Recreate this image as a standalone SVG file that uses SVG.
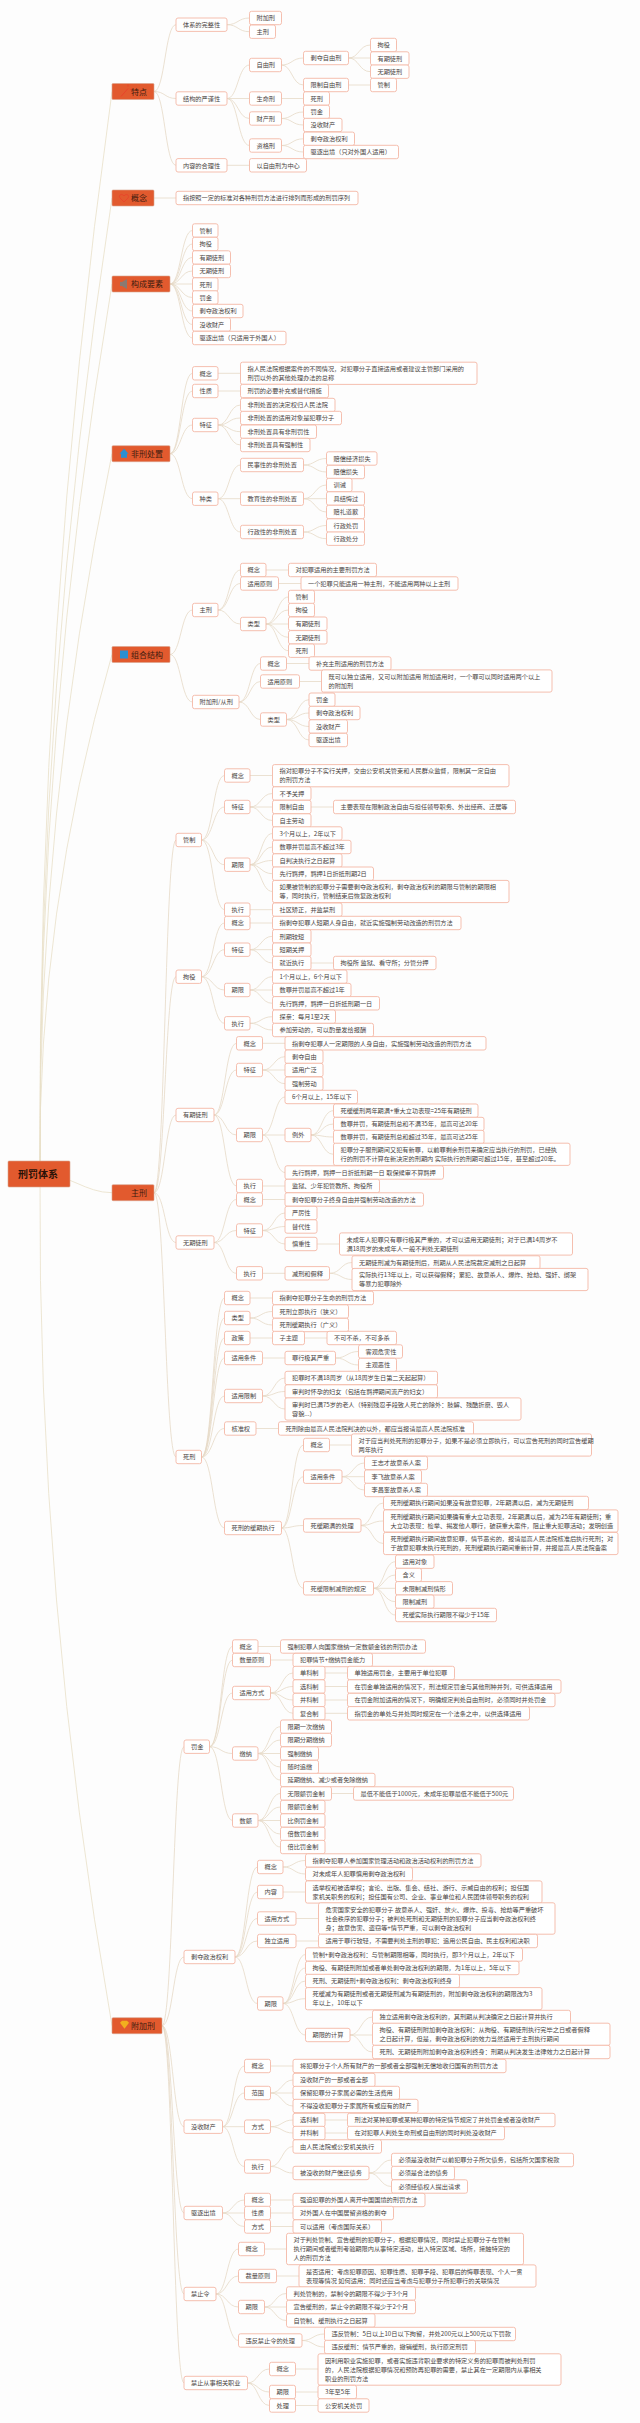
<svg xmlns="http://www.w3.org/2000/svg" width="640" height="2423" viewBox="0 0 640 2423">
<style>
#links path{fill:none;stroke:#e6d9c6;stroke-width:.8}
#links path.r{stroke:#e8e0c8}
#nodes rect{fill:#fff;stroke:#f4b8a6;stroke-width:.9;rx:2px}
#nodes rect.l{fill:#e25a2e;stroke:#d9a58f;stroke-width:.6;rx:1px}
#nodes text{font-family:"Noto Sans CJK SC","Noto Sans",sans-serif;font-size:6.2px;fill:#4a4442}
#nodes text.l{font-size:8px;fill:#3d1a0e}
#nodes text.rt{font-size:10px;font-weight:bold;fill:#2a1208}
</style>
<rect width="640" height="2423" fill="#fdfdfd"/>
<g id="links">
<path class="r" d="M40 1174Q37 632 112 91.5"/>
<path class="r" d="M40 1174Q37 686 112 198"/>
<path class="r" d="M40 1174Q37 729 112 284"/>
<path class="r" d="M40 1174Q37 814 112 453.7"/>
<path class="r" d="M40 1174Q37 914 112 654.5"/>
<path class="r" d="M40 1174C70 1174 85 1192.7 112 1192.7"/>
<path class="r" d="M40 1174Q37 1600 112 2025.7"/>
<path d="M154 91.5C165 91.5 165 24.7 176 24.7"/>
<path d="M154 91.5C165 91.5 165 98.5 176 98.5"/>
<path d="M154 91.5C165 91.5 165 165.3 176 165.3"/>
<path d="M227 24.7C238 24.7 238 18 249.5 18"/>
<path d="M227 24.7C238 24.7 238 31.7 249.5 31.7"/>
<path d="M227 98.5C238 98.5 238 65 249.5 65"/>
<path d="M227 98.5H249.5"/>
<path d="M227 98.5C238 98.5 238 118.5 249.5 118.5"/>
<path d="M227 98.5C238 98.5 238 145.5 249.5 145.5"/>
<path d="M227 165.3H249.5"/>
<path d="M281.5 65C292 65 292 58 303.5 58"/>
<path d="M281.5 65C292 65 292 85 303.5 85"/>
<path d="M281.5 98.5H303.5"/>
<path d="M281.5 118.5C292 118.5 292 112 303.5 112"/>
<path d="M281.5 118.5C292 118.5 292 125 303.5 125"/>
<path d="M281.5 145.5C292 145.5 292 138.8 303.5 138.8"/>
<path d="M281.5 145.5C292 145.5 292 152 303.5 152"/>
<path d="M348.5 58C359 58 359 45 370.5 45"/>
<path d="M348.5 58H370.5"/>
<path d="M348.5 58C359 58 359 71.7 370.5 71.7"/>
<path d="M348.5 85H370.5"/>
<path d="M154 198H176"/>
<path d="M170 284C181 284 181 230.5 192.5 230.5"/>
<path d="M170 284C181 284 181 244 192.5 244"/>
<path d="M170 284C181 284 181 257.5 192.5 257.5"/>
<path d="M170 284C181 284 181 271 192.5 271"/>
<path d="M170 284H192.5"/>
<path d="M170 284C181 284 181 297.5 192.5 297.5"/>
<path d="M170 284C181 284 181 311 192.5 311"/>
<path d="M170 284C181 284 181 324.5 192.5 324.5"/>
<path d="M170 284C181 284 181 338 192.5 338"/>
<path d="M170 453.7C181 453.7 181 373.3 192.5 373.3"/>
<path d="M170 453.7C181 453.7 181 391 192.5 391"/>
<path d="M170 453.7C181 453.7 181 425 192.5 425"/>
<path d="M170 453.7C181 453.7 181 498.7 192.5 498.7"/>
<path d="M218 373.3H240.5"/>
<path d="M218 391H240.5"/>
<path d="M218 425C229 425 229 405 240.5 405"/>
<path d="M218 425C229 425 229 418 240.5 418"/>
<path d="M218 425C229 425 229 431.7 240.5 431.7"/>
<path d="M218 425C229 425 229 445 240.5 445"/>
<path d="M218 498.7C229 498.7 229 465 240.5 465"/>
<path d="M218 498.7H240.5"/>
<path d="M218 498.7C229 498.7 229 532 240.5 532"/>
<path d="M303.5 465C315 465 315 458.5 326.5 458.5"/>
<path d="M303.5 465C315 465 315 472 326.5 472"/>
<path d="M303.5 498.7C315 498.7 315 485 326.5 485"/>
<path d="M303.5 498.7H326.5"/>
<path d="M303.5 498.7C315 498.7 315 512 326.5 512"/>
<path d="M303.5 532C315 532 315 525.5 326.5 525.5"/>
<path d="M303.5 532C315 532 315 538.7 326.5 538.7"/>
<path d="M170 654.5C181 654.5 181 610 192.5 610"/>
<path d="M170 654.5C181 654.5 181 702 192.5 702"/>
<path d="M218 610C229 610 229 570 240.5 570"/>
<path d="M218 610C229 610 229 583.5 240.5 583.5"/>
<path d="M218 610C229 610 229 624 240.5 624"/>
<path d="M266 570H288.5"/>
<path d="M278.5 583.5H301"/>
<path d="M266 624C277 624 277 597 288.5 597"/>
<path d="M266 624C277 624 277 610 288.5 610"/>
<path d="M266 624H288.5"/>
<path d="M266 624C277 624 277 637.3 288.5 637.3"/>
<path d="M266 624C277 624 277 650.7 288.5 650.7"/>
<path d="M239 702C250 702 250 663.5 260.5 663.5"/>
<path d="M239 702C250 702 250 681.5 260.5 681.5"/>
<path d="M239 702C250 702 250 719.5 260.5 719.5"/>
<path d="M286.5 663.5H309"/>
<path d="M299.5 681.5H321.5"/>
<path d="M286.5 719.5C298 719.5 298 699.7 309 699.7"/>
<path d="M286.5 719.5C298 719.5 298 713 309 713"/>
<path d="M286.5 719.5C298 719.5 298 726.5 309 726.5"/>
<path d="M286.5 719.5C298 719.5 298 740 309 740"/>
<path d="M154 1192.7C165 1192.7 165 840 176 840"/>
<path d="M154 1192.7C165 1192.7 165 976.7 176 976.7"/>
<path d="M154 1192.7C165 1192.7 165 1115 176 1115"/>
<path d="M154 1192.7C165 1192.7 165 1242.5 176 1242.5"/>
<path d="M154 1192.7C165 1192.7 165 1457 176 1457"/>
<path d="M201.5 840C213 840 213 775.5 224.5 775.5"/>
<path d="M201.5 840C213 840 213 807 224.5 807"/>
<path d="M201.5 840C213 840 213 864.7 224.5 864.7"/>
<path d="M201.5 840C213 840 213 909.7 224.5 909.7"/>
<path d="M250 775.5H272.5"/>
<path d="M250 807C261 807 261 793.5 272.5 793.5"/>
<path d="M250 807H272.5"/>
<path d="M250 807C261 807 261 820.5 272.5 820.5"/>
<path d="M311 807H333.5"/>
<path d="M250 864.7C261 864.7 261 833.5 272.5 833.5"/>
<path d="M250 864.7C261 864.7 261 847 272.5 847"/>
<path d="M250 864.7C261 864.7 261 860.5 272.5 860.5"/>
<path d="M250 864.7C261 864.7 261 873.7 272.5 873.7"/>
<path d="M250 864.7C261 864.7 261 891.5 272.5 891.5"/>
<path d="M250 909.7H272.5"/>
<path d="M201.5 976.7C213 976.7 213 923 224.5 923"/>
<path d="M201.5 976.7C213 976.7 213 949.7 224.5 949.7"/>
<path d="M201.5 976.7C213 976.7 213 990 224.5 990"/>
<path d="M201.5 976.7C213 976.7 213 1023.3 224.5 1023.3"/>
<path d="M250 923H272.5"/>
<path d="M250 949.7C261 949.7 261 936.3 272.5 936.3"/>
<path d="M250 949.7H272.5"/>
<path d="M250 949.7C261 949.7 261 963 272.5 963"/>
<path d="M311 963H333.5"/>
<path d="M250 990C261 990 261 976.7 272.5 976.7"/>
<path d="M250 990H272.5"/>
<path d="M250 990C261 990 261 1003.3 272.5 1003.3"/>
<path d="M250 1023.3C261 1023.3 261 1016.7 272.5 1016.7"/>
<path d="M250 1023.3C261 1023.3 261 1030 272.5 1030"/>
<path d="M214 1115C225 1115 225 1043.3 236.5 1043.3"/>
<path d="M214 1115C225 1115 225 1070 236.5 1070"/>
<path d="M214 1115C225 1115 225 1135 236.5 1135"/>
<path d="M214 1115C225 1115 225 1186 236.5 1186"/>
<path d="M262.5 1043.3H285"/>
<path d="M262.5 1070C274 1070 274 1056.7 285 1056.7"/>
<path d="M262.5 1070H285"/>
<path d="M262.5 1070C274 1070 274 1083.7 285 1083.7"/>
<path d="M262.5 1135C274 1135 274 1097 285 1097"/>
<path d="M262.5 1135H285"/>
<path d="M262.5 1135C274 1135 274 1172.5 285 1172.5"/>
<path d="M262.5 1186H285"/>
<path d="M311 1135C322 1135 322 1110.7 333.5 1110.7"/>
<path d="M311 1135C322 1135 322 1124 333.5 1124"/>
<path d="M311 1135C322 1135 322 1137 333.5 1137"/>
<path d="M311 1135C322 1135 322 1154.3 333.5 1154.3"/>
<path d="M214 1242.5C225 1242.5 225 1199.5 236.5 1199.5"/>
<path d="M214 1242.5C225 1242.5 225 1230.5 236.5 1230.5"/>
<path d="M214 1242.5C225 1242.5 225 1273.3 236.5 1273.3"/>
<path d="M262.5 1199.5H285"/>
<path d="M262.5 1230.5C274 1230.5 274 1213 285 1213"/>
<path d="M262.5 1230.5C274 1230.5 274 1226.5 285 1226.5"/>
<path d="M262.5 1230.5C274 1230.5 274 1244 285 1244"/>
<path d="M317 1244H339.5"/>
<path d="M262.5 1273.3H285"/>
<path d="M329.5 1273.3C341 1273.3 341 1262.5 352 1262.5"/>
<path d="M329.5 1273.3C341 1273.3 341 1279.5 352 1279.5"/>
<path d="M201.5 1457C213 1457 213 1298 224.5 1298"/>
<path d="M201.5 1457C213 1457 213 1318 224.5 1318"/>
<path d="M201.5 1457C213 1457 213 1338 224.5 1338"/>
<path d="M201.5 1457C213 1457 213 1358 224.5 1358"/>
<path d="M201.5 1457C213 1457 213 1396 224.5 1396"/>
<path d="M201.5 1457C213 1457 213 1428.5 224.5 1428.5"/>
<path d="M201.5 1457C213 1457 213 1528 224.5 1528"/>
<path d="M250 1298H272.5"/>
<path d="M250 1318C261 1318 261 1311.5 272.5 1311.5"/>
<path d="M250 1318C261 1318 261 1325 272.5 1325"/>
<path d="M250 1338H272.5"/>
<path d="M304.5 1338H327"/>
<path d="M262.5 1358H285"/>
<path d="M335.5 1358C347 1358 347 1351.5 358.5 1351.5"/>
<path d="M335.5 1358C347 1358 347 1365 358.5 1365"/>
<path d="M262.5 1396C274 1396 274 1378 285 1378"/>
<path d="M262.5 1396C274 1396 274 1391.5 285 1391.5"/>
<path d="M262.5 1396C274 1396 274 1409 285 1409"/>
<path d="M256 1428.5H278.5"/>
<path d="M281.5 1528C292 1528 292 1445 303.5 1445"/>
<path d="M281.5 1528C292 1528 292 1476.7 303.5 1476.7"/>
<path d="M281.5 1528C292 1528 292 1525.5 303.5 1525.5"/>
<path d="M281.5 1528C292 1528 292 1588.3 303.5 1588.3"/>
<path d="M329.5 1445H351.5"/>
<path d="M342 1476.7C353 1476.7 353 1463 364.5 1463"/>
<path d="M342 1476.7H364.5"/>
<path d="M342 1476.7C353 1476.7 353 1490 364.5 1490"/>
<path d="M361 1525.5C372 1525.5 372 1503 383.5 1503"/>
<path d="M361 1525.5C372 1525.5 372 1521 383.5 1521"/>
<path d="M361 1525.5C372 1525.5 372 1543.5 383.5 1543.5"/>
<path d="M373.5 1588.3C384 1588.3 384 1561.7 395.5 1561.7"/>
<path d="M373.5 1588.3C384 1588.3 384 1575 395.5 1575"/>
<path d="M373.5 1588.3H395.5"/>
<path d="M373.5 1588.3C384 1588.3 384 1601.7 395.5 1601.7"/>
<path d="M373.5 1588.3C384 1588.3 384 1615 395.5 1615"/>
<path d="M162 2025.7C173 2025.7 173 1746.7 184 1746.7"/>
<path d="M162 2025.7C173 2025.7 173 1957 184 1957"/>
<path d="M162 2025.7C173 2025.7 173 2126.7 184 2126.7"/>
<path d="M162 2025.7C173 2025.7 173 2213 184 2213"/>
<path d="M162 2025.7C173 2025.7 173 2294 184 2294"/>
<path d="M162 2025.7C173 2025.7 173 2383 184 2383"/>
<path d="M209.5 1746.7C221 1746.7 221 1646.5 232.5 1646.5"/>
<path d="M209.5 1746.7C221 1746.7 221 1660 232.5 1660"/>
<path d="M209.5 1746.7C221 1746.7 221 1693 232.5 1693"/>
<path d="M209.5 1746.7C221 1746.7 221 1753.5 232.5 1753.5"/>
<path d="M209.5 1746.7C221 1746.7 221 1820.5 232.5 1820.5"/>
<path d="M258 1646.5H280.5"/>
<path d="M270.5 1660H293"/>
<path d="M270.5 1693C282 1693 282 1673 293 1673"/>
<path d="M270.5 1693C282 1693 282 1686.5 293 1686.5"/>
<path d="M270.5 1693C282 1693 282 1700 293 1700"/>
<path d="M270.5 1693C282 1693 282 1713.3 293 1713.3"/>
<path d="M325 1673H347.5"/>
<path d="M325 1686.5H347.5"/>
<path d="M325 1700H347.5"/>
<path d="M325 1713.3H347.5"/>
<path d="M258 1753.5C269 1753.5 269 1726.7 280.5 1726.7"/>
<path d="M258 1753.5C269 1753.5 269 1740 280.5 1740"/>
<path d="M258 1753.5H280.5"/>
<path d="M258 1753.5C269 1753.5 269 1767 280.5 1767"/>
<path d="M258 1753.5C269 1753.5 269 1780 280.5 1780"/>
<path d="M258 1820.5C269 1820.5 269 1793.5 280.5 1793.5"/>
<path d="M258 1820.5C269 1820.5 269 1807 280.5 1807"/>
<path d="M258 1820.5H280.5"/>
<path d="M258 1820.5C269 1820.5 269 1834 280.5 1834"/>
<path d="M258 1820.5C269 1820.5 269 1847 280.5 1847"/>
<path d="M331.5 1793.5H353.5"/>
<path d="M235 1957C246 1957 246 1867 257.5 1867"/>
<path d="M235 1957C246 1957 246 1892 257.5 1892"/>
<path d="M235 1957C246 1957 246 1918.5 257.5 1918.5"/>
<path d="M235 1957C246 1957 246 1941 257.5 1941"/>
<path d="M235 1957C246 1957 246 2003.5 257.5 2003.5"/>
<path d="M283 1867C294 1867 294 1860.5 305.5 1860.5"/>
<path d="M283 1867C294 1867 294 1874 305.5 1874"/>
<path d="M283 1892H305.5"/>
<path d="M296 1918.5H318.5"/>
<path d="M296 1941H318.5"/>
<path d="M283 2003.5C294 2003.5 294 1954.5 305.5 1954.5"/>
<path d="M283 2003.5C294 2003.5 294 1968 305.5 1968"/>
<path d="M283 2003.5C294 2003.5 294 1981 305.5 1981"/>
<path d="M283 2003.5C294 2003.5 294 1998.7 305.5 1998.7"/>
<path d="M283 2003.5C294 2003.5 294 2035 305.5 2035"/>
<path d="M350 2035C361 2035 361 2017 372.5 2017"/>
<path d="M350 2035H372.5"/>
<path d="M350 2035C361 2035 361 2052 372.5 2052"/>
<path d="M222.5 2126.7C233 2126.7 233 2066 244.5 2066"/>
<path d="M222.5 2126.7C233 2126.7 233 2093 244.5 2093"/>
<path d="M222.5 2126.7H244.5"/>
<path d="M222.5 2126.7C233 2126.7 233 2166.5 244.5 2166.5"/>
<path d="M270.5 2066H293"/>
<path d="M270.5 2093C282 2093 282 2080 293 2080"/>
<path d="M270.5 2093H293"/>
<path d="M270.5 2093C282 2093 282 2106 293 2106"/>
<path d="M270.5 2126.7C282 2126.7 282 2120 293 2120"/>
<path d="M270.5 2126.7C282 2126.7 282 2133 293 2133"/>
<path d="M325 2120H347.5"/>
<path d="M325 2133H347.5"/>
<path d="M270.5 2166.5C282 2166.5 282 2146.5 293 2146.5"/>
<path d="M270.5 2166.5C282 2166.5 282 2173 293 2173"/>
<path d="M369 2173C380 2173 380 2160 391.5 2160"/>
<path d="M369 2173H391.5"/>
<path d="M369 2173C380 2173 380 2186.5 391.5 2186.5"/>
<path d="M222.5 2213C233 2213 233 2200 244.5 2200"/>
<path d="M222.5 2213H244.5"/>
<path d="M222.5 2213C233 2213 233 2226.5 244.5 2226.5"/>
<path d="M270.5 2200H293"/>
<path d="M270.5 2213H293"/>
<path d="M270.5 2226.5H293"/>
<path d="M216 2294C227 2294 227 2249 238.5 2249"/>
<path d="M216 2294C227 2294 227 2276 238.5 2276"/>
<path d="M216 2294C227 2294 227 2307 238.5 2307"/>
<path d="M216 2294C227 2294 227 2340.5 238.5 2340.5"/>
<path d="M264.5 2249H286.5"/>
<path d="M276.5 2276H299"/>
<path d="M264.5 2307C275 2307 275 2293.5 286.5 2293.5"/>
<path d="M264.5 2307H286.5"/>
<path d="M264.5 2307C275 2307 275 2320.5 286.5 2320.5"/>
<path d="M302 2340.5C313 2340.5 313 2334 324.5 2334"/>
<path d="M302 2340.5C313 2340.5 313 2347 324.5 2347"/>
<path d="M247.5 2383C258 2383 258 2369 269.5 2369"/>
<path d="M247.5 2383C258 2383 258 2392 269.5 2392"/>
<path d="M247.5 2383C258 2383 258 2405.5 269.5 2405.5"/>
<path d="M295.5 2369H318"/>
<path d="M295.5 2392H318"/>
<path d="M295.5 2405.5H318"/>
</g>
<g id="nodes">
<g id="root" transform="translate(8 1174)"><rect class="l" y="-13" width="62" height="26"/><text class="rt" x="10" y="3.5">刑罚体系</text></g>
<g id="L-tedian" transform="translate(112 91.5)"><rect class="l" y="-8" width="42" height="16"/><path d="M9 5L16 -3M16 -5V-7M18 -2H20" stroke="#e8432b" stroke-width="1" fill="none"/><text class="l" x="19" y="3">特点</text></g>
<g transform="translate(176 24.7)" id="a1"><rect y="-6.7" width="51" height="13.4"/><text x="7" y="2.2">体系的完整性</text></g>
<g transform="translate(249.5 18)" id="a2"><rect y="-6.7" width="32" height="13.4"/><text x="7" y="2.2">附加刑</text></g>
<g transform="translate(249.5 31.7)" id="a3"><rect y="-6.7" width="26" height="13.4"/><text x="7" y="2.2">主刑</text></g>
<g transform="translate(176 98.5)" id="a4"><rect y="-6.7" width="51" height="13.4"/><text x="7" y="2.2">结构的严谨性</text></g>
<g transform="translate(249.5 65)" id="a5"><rect y="-6.7" width="32" height="13.4"/><text x="7" y="2.2">自由刑</text></g>
<g transform="translate(303.5 58)" id="a6"><rect y="-6.7" width="45" height="13.4"/><text x="7" y="2.2">剥夺自由刑</text></g>
<g transform="translate(370.5 45)" id="a7"><rect y="-6.7" width="26" height="13.4"/><text x="7" y="2.2">拘役</text></g>
<g transform="translate(370.5 58.5)" id="a8"><rect y="-6.7" width="38.5" height="13.4"/><text x="7" y="2.2">有期徒刑</text></g>
<g transform="translate(370.5 71.7)" id="a9"><rect y="-6.7" width="38.5" height="13.4"/><text x="7" y="2.2">无期徒刑</text></g>
<g transform="translate(303.5 85)" id="a10"><rect y="-6.7" width="45" height="13.4"/><text x="7" y="2.2">限制自由刑</text></g>
<g transform="translate(370.5 85)" id="a11"><rect y="-6.7" width="26" height="13.4"/><text x="7" y="2.2">管制</text></g>
<g transform="translate(249.5 98.5)" id="a12"><rect y="-6.7" width="32" height="13.4"/><text x="7" y="2.2">生命刑</text></g>
<g transform="translate(303.5 98.5)" id="a13"><rect y="-6.7" width="26" height="13.4"/><text x="7" y="2.2">死刑</text></g>
<g transform="translate(249.5 118.5)" id="a14"><rect y="-6.7" width="32" height="13.4"/><text x="7" y="2.2">财产刑</text></g>
<g transform="translate(303.5 112)" id="a15"><rect y="-6.7" width="26" height="13.4"/><text x="7" y="2.2">罚金</text></g>
<g transform="translate(303.5 125)" id="a16"><rect y="-6.7" width="38.5" height="13.4"/><text x="7" y="2.2">没收财产</text></g>
<g transform="translate(249.5 145.5)" id="a17"><rect y="-6.7" width="32" height="13.4"/><text x="7" y="2.2">资格刑</text></g>
<g transform="translate(303.5 138.8)" id="a18"><rect y="-6.7" width="51" height="13.4"/><text x="7" y="2.2">剥夺政治权利</text></g>
<g transform="translate(303.5 152)" id="a19"><rect y="-6.7" width="95" height="13.4"/><text x="7" y="2.2">驱逐出境（只对外国人适用）</text></g>
<g transform="translate(176 165.3)" id="a20"><rect y="-6.7" width="51" height="13.4"/><text x="7" y="2.2">内容的合理性</text></g>
<g transform="translate(249.5 165.3)" id="a21"><rect y="-6.7" width="57" height="13.4"/><text x="7" y="2.2">以自由刑为中心</text></g>
<g id="L-gainian" transform="translate(112 198)"><rect class="l" y="-8" width="42" height="16"/><path d="M12 4L8 0C6 -3 10 -5 12 -2C14 -5 18 -3 16 0Z" stroke="#e8432b" stroke-width=".8" fill="none"/><text class="l" x="19" y="3">概念</text></g>
<g transform="translate(176 198)" id="b1"><rect y="-6.7" width="182" height="13.4"/><text x="7" y="2.2">指按照一定的标准对各种刑罚方法进行排列而形成的刑罚序列</text></g>
<g id="L-goucheng" transform="translate(112 284)"><rect class="l" y="-8" width="58" height="16"/><path d="M8 -2H10L15 -5V5L10 2H8Z" fill="#8a7a72"/><text class="l" x="19" y="3">构成要素</text></g>
<g transform="translate(192.5 230.5)" id="c1"><rect y="-6.7" width="25.5" height="13.4"/><text x="7" y="2.2">管制</text></g>
<g transform="translate(192.5 244)" id="c2"><rect y="-6.7" width="25.5" height="13.4"/><text x="7" y="2.2">拘役</text></g>
<g transform="translate(192.5 257.5)" id="c3"><rect y="-6.7" width="38" height="13.4"/><text x="7" y="2.2">有期徒刑</text></g>
<g transform="translate(192.5 271)" id="c4"><rect y="-6.7" width="38" height="13.4"/><text x="7" y="2.2">无期徒刑</text></g>
<g transform="translate(192.5 284.5)" id="c5"><rect y="-6.7" width="25.5" height="13.4"/><text x="7" y="2.2">死刑</text></g>
<g transform="translate(192.5 297.5)" id="c6"><rect y="-6.7" width="25.5" height="13.4"/><text x="7" y="2.2">罚金</text></g>
<g transform="translate(192.5 311)" id="c7"><rect y="-6.7" width="50.5" height="13.4"/><text x="7" y="2.2">剥夺政治权利</text></g>
<g transform="translate(192.5 324.5)" id="c8"><rect y="-6.7" width="38" height="13.4"/><text x="7" y="2.2">没收财产</text></g>
<g transform="translate(192.5 338)" id="c9"><rect y="-6.7" width="93.5" height="13.4"/><text x="7" y="2.2">驱逐出境（只适用于外国人）</text></g>
<g id="L-feixing" transform="translate(112 453.7)"><rect class="l" y="-8" width="58" height="16"/><path d="M12 -5L16.5 0H15V4H9V0H7.500Z" fill="#2b8fd0"/><text class="l" x="19" y="3">非刑处置</text></g>
<g transform="translate(192.5 373.3)" id="d1"><rect y="-6.7" width="25.5" height="13.4"/><text x="7" y="2.2">概念</text></g>
<g transform="translate(240.5 373.3)" id="d2"><rect y="-11.1" width="236.500" height="22.200"/><text x="7" y="-2.4">指人民法院根据案件的不同情况，对犯罪分子直接适用或者建议主管部门采用的<tspan x="7" dy="9.1">刑罚以外的其他处理办法的总称</tspan></text></g>
<g transform="translate(192.5 391)" id="d3"><rect y="-6.7" width="25.5" height="13.4"/><text x="7" y="2.2">性质</text></g>
<g transform="translate(240.5 391)" id="d4"><rect y="-6.7" width="88" height="13.4"/><text x="7" y="2.2">刑罚的必要补充或替代措施</text></g>
<g transform="translate(192.5 425)" id="d5"><rect y="-6.7" width="25.5" height="13.4"/><text x="7" y="2.2">特征</text></g>
<g transform="translate(240.5 405)" id="d6"><rect y="-6.7" width="94.5" height="13.4"/><text x="7" y="2.2">非刑处置的决定权归人民法院</text></g>
<g transform="translate(240.5 418)" id="d7"><rect y="-6.7" width="101" height="13.4"/><text x="7" y="2.2">非刑处置的适用对象是犯罪分子</text></g>
<g transform="translate(240.5 431.7)" id="d8"><rect y="-6.7" width="76" height="13.4"/><text x="7" y="2.2">非刑处置具有非刑罚性</text></g>
<g transform="translate(240.5 445)" id="d9"><rect y="-6.7" width="69.5" height="13.4"/><text x="7" y="2.2">非刑处置具有强制性</text></g>
<g transform="translate(192.5 498.7)" id="d10"><rect y="-6.7" width="25.5" height="13.4"/><text x="7" y="2.2">种类</text></g>
<g transform="translate(240.5 465)" id="d11"><rect y="-6.7" width="63" height="13.4"/><text x="7" y="2.2">民事性的非刑处置</text></g>
<g transform="translate(326.5 458.5)" id="d12"><rect y="-6.7" width="50.5" height="13.4"/><text x="7" y="2.2">赔偿经济损失</text></g>
<g transform="translate(326.5 472)" id="d13"><rect y="-6.7" width="38" height="13.4"/><text x="7" y="2.2">赔偿损失</text></g>
<g transform="translate(240.5 498.7)" id="d14"><rect y="-6.7" width="63" height="13.4"/><text x="7" y="2.2">教育性的非刑处置</text></g>
<g transform="translate(326.5 485)" id="d15"><rect y="-6.7" width="25.5" height="13.4"/><text x="7" y="2.2">训诫</text></g>
<g transform="translate(326.5 498.5)" id="d16"><rect y="-6.7" width="38" height="13.4"/><text x="7" y="2.2">具结悔过</text></g>
<g transform="translate(326.5 512)" id="d17"><rect y="-6.7" width="38" height="13.4"/><text x="7" y="2.2">赔礼道歉</text></g>
<g transform="translate(240.5 532)" id="d18"><rect y="-6.7" width="63" height="13.4"/><text x="7" y="2.2">行政性的非刑处置</text></g>
<g transform="translate(326.5 525.5)" id="d19"><rect y="-6.7" width="38" height="13.4"/><text x="7" y="2.2">行政处罚</text></g>
<g transform="translate(326.5 538.7)" id="d20"><rect y="-6.7" width="38" height="13.4"/><text x="7" y="2.2">行政处分</text></g>
<g id="L-zuhe" transform="translate(112 654.5)"><rect class="l" y="-8" width="58" height="16"/><path d="M8 -4H16V4H8Z" fill="#2b8fd0"/><text class="l" x="19" y="3">组合结构</text></g>
<g transform="translate(192.5 610)" id="e1"><rect y="-6.7" width="25.5" height="13.4"/><text x="7" y="2.2">主刑</text></g>
<g transform="translate(240.5 570)" id="e2"><rect y="-6.7" width="25.5" height="13.4"/><text x="7" y="2.2">概念</text></g>
<g transform="translate(288.5 570)" id="e3"><rect y="-6.7" width="88" height="13.4"/><text x="7" y="2.2">对犯罪适用的主要刑罚方法</text></g>
<g transform="translate(240.5 583.5)" id="e4"><rect y="-6.7" width="38" height="13.4"/><text x="7" y="2.2">适用原则</text></g>
<g transform="translate(301 583.5)" id="e5"><rect y="-6.7" width="157" height="13.4"/><text x="7" y="2.2">一个犯罪只能适用一种主刑，不能适用两种以上主刑</text></g>
<g transform="translate(240.5 624)" id="e6"><rect y="-6.7" width="25.5" height="13.4"/><text x="7" y="2.2">类型</text></g>
<g transform="translate(288.5 597)" id="e7"><rect y="-6.7" width="26" height="13.4"/><text x="7" y="2.2">管制</text></g>
<g transform="translate(288.5 610)" id="e8"><rect y="-6.7" width="26" height="13.4"/><text x="7" y="2.2">拘役</text></g>
<g transform="translate(288.5 623.7)" id="e9"><rect y="-6.7" width="38.5" height="13.4"/><text x="7" y="2.2">有期徒刑</text></g>
<g transform="translate(288.5 637.3)" id="e10"><rect y="-6.7" width="38.5" height="13.4"/><text x="7" y="2.2">无期徒刑</text></g>
<g transform="translate(288.5 650.7)" id="e11"><rect y="-6.7" width="26" height="13.4"/><text x="7" y="2.2">死刑</text></g>
<g transform="translate(192.5 702)" id="e12"><rect y="-6.7" width="46.5" height="13.4"/><text x="7" y="2.2">附加刑/从刑</text></g>
<g transform="translate(260.5 663.5)" id="e13"><rect y="-6.7" width="26" height="13.4"/><text x="7" y="2.2">概念</text></g>
<g transform="translate(309 663.5)" id="e14"><rect y="-6.7" width="82" height="13.4"/><text x="7" y="2.2">补充主刑适用的刑罚方法</text></g>
<g transform="translate(260.5 681.5)" id="e15"><rect y="-6.7" width="39" height="13.4"/><text x="7" y="2.2">适用原则</text></g>
<g transform="translate(321.5 681)" id="e16"><rect y="-11.1" width="230.500" height="22.200"/><text x="7" y="-2.4">既可以独立适用，又可以附加适用 附加适用时，一个罪可以同时适用两个以上<tspan x="7" dy="9.1">的附加刑</tspan></text></g>
<g transform="translate(260.5 719.5)" id="e17"><rect y="-6.7" width="26" height="13.4"/><text x="7" y="2.2">类型</text></g>
<g transform="translate(309 699.7)" id="e18"><rect y="-6.7" width="26" height="13.4"/><text x="7" y="2.2">罚金</text></g>
<g transform="translate(309 713)" id="e19"><rect y="-6.7" width="51" height="13.4"/><text x="7" y="2.2">剥夺政治权利</text></g>
<g transform="translate(309 726.5)" id="e20"><rect y="-6.7" width="38.5" height="13.4"/><text x="7" y="2.2">没收财产</text></g>
<g transform="translate(309 740)" id="e21"><rect y="-6.7" width="38.5" height="13.4"/><text x="7" y="2.2">驱逐出境</text></g>
<g id="L-zhuxing" transform="translate(112 1192.7)"><rect class="l" y="-8" width="42" height="16"/><text class="l" x="19" y="3">主刑</text></g>
<g transform="translate(176 840)" id="f1"><rect y="-6.7" width="25.5" height="13.4"/><text x="7" y="2.2">管制</text></g>
<g transform="translate(224.5 775.5)" id="f2"><rect y="-6.7" width="25.5" height="13.4"/><text x="7" y="2.2">概念</text></g>
<g transform="translate(272.5 775.7)" id="f3"><rect y="-11.1" width="236.500" height="22.200"/><text x="7" y="-2.4">指对犯罪分子不实行关押，交由公安机关管束和人民群众监督，限制其一定自由<tspan x="7" dy="9.1">的刑罚方法</tspan></text></g>
<g transform="translate(224.5 807)" id="f4"><rect y="-6.7" width="25.5" height="13.4"/><text x="7" y="2.2">特征</text></g>
<g transform="translate(272.5 793.5)" id="f5"><rect y="-6.7" width="38.5" height="13.4"/><text x="7" y="2.2">不予关押</text></g>
<g transform="translate(272.5 807)" id="f6"><rect y="-6.7" width="38.5" height="13.4"/><text x="7" y="2.2">限制自由</text></g>
<g transform="translate(333.5 807)" id="f7"><rect y="-6.7" width="182" height="13.4"/><text x="7" y="2.2">主要表现在限制政治自由与担任领导职务、外出经商、迁居等</text></g>
<g transform="translate(272.5 820.5)" id="f8"><rect y="-6.7" width="38.5" height="13.4"/><text x="7" y="2.2">自主劳动</text></g>
<g transform="translate(224.5 864.7)" id="f9"><rect y="-6.7" width="25.5" height="13.4"/><text x="7" y="2.2">期限</text></g>
<g transform="translate(272.5 833.5)" id="f10"><rect y="-6.7" width="69.5" height="13.4"/><text x="7" y="2.2">3个月以上，2年以下</text></g>
<g transform="translate(272.5 847)" id="f11"><rect y="-6.7" width="78.5" height="13.4"/><text x="7" y="2.2">数罪并罚最高不超过3年</text></g>
<g transform="translate(272.5 860.5)" id="f12"><rect y="-6.7" width="69.5" height="13.4"/><text x="7" y="2.2">自判决执行之日起算</text></g>
<g transform="translate(272.5 873.7)" id="f13"><rect y="-6.7" width="101" height="13.4"/><text x="7" y="2.2">先行羁押，羁押1日折抵刑期2日</text></g>
<g transform="translate(272.5 891.5)" id="f14"><rect y="-11.1" width="236.500" height="22.200"/><text x="7" y="-2.4">如果被管制的犯罪分子需要剥夺政治权利，剥夺政治权利的期限与管制的期限相<tspan x="7" dy="9.1">等，同时执行，管制结束后恢复政治权利</tspan></text></g>
<g transform="translate(224.5 909.7)" id="f15"><rect y="-6.7" width="25.5" height="13.4"/><text x="7" y="2.2">执行</text></g>
<g transform="translate(272.5 909.7)" id="f16"><rect y="-6.7" width="69.5" height="13.4"/><text x="7" y="2.2">社区矫正，并监禁刑</text></g>
<g transform="translate(176 976.7)" id="g1"><rect y="-6.7" width="25.5" height="13.4"/><text x="7" y="2.2">拘役</text></g>
<g transform="translate(224.5 923)" id="g2"><rect y="-6.7" width="25.5" height="13.4"/><text x="7" y="2.2">概念</text></g>
<g transform="translate(272.5 923)" id="g3"><rect y="-6.7" width="188.500" height="13.4"/><text x="7" y="2.2">指剥夺犯罪人短期人身自由，就近实施强制劳动改造的刑罚方法</text></g>
<g transform="translate(224.5 949.7)" id="g4"><rect y="-6.7" width="25.5" height="13.4"/><text x="7" y="2.2">特征</text></g>
<g transform="translate(272.5 936.3)" id="g5"><rect y="-6.7" width="38.5" height="13.4"/><text x="7" y="2.2">刑期较短</text></g>
<g transform="translate(272.5 949.7)" id="g6"><rect y="-6.7" width="38.5" height="13.4"/><text x="7" y="2.2">短期关押</text></g>
<g transform="translate(272.5 963)" id="g7"><rect y="-6.7" width="38.5" height="13.4"/><text x="7" y="2.2">就近执行</text></g>
<g transform="translate(333.5 963)" id="g8"><rect y="-6.7" width="102.5" height="13.4"/><text x="7" y="2.2">拘役所 监狱、看守所；分管分押</text></g>
<g transform="translate(224.5 990)" id="g9"><rect y="-6.7" width="25.5" height="13.4"/><text x="7" y="2.2">期限</text></g>
<g transform="translate(272.5 976.7)" id="g10"><rect y="-6.7" width="74.5" height="13.4"/><text x="7" y="2.2">1个月以上，6个月以下</text></g>
<g transform="translate(272.5 990)" id="g11"><rect y="-6.7" width="78.5" height="13.4"/><text x="7" y="2.2">数罪并罚最高不超过1年</text></g>
<g transform="translate(272.5 1003.3)" id="g12"><rect y="-6.7" width="107" height="13.4"/><text x="7" y="2.2">先行羁押，羁押一日折抵刑期一日</text></g>
<g transform="translate(224.5 1023.3)" id="g13"><rect y="-6.7" width="25.5" height="13.4"/><text x="7" y="2.2">执行</text></g>
<g transform="translate(272.5 1016.7)" id="g14"><rect y="-6.7" width="63" height="13.4"/><text x="7" y="2.2">探亲：每月1至2天</text></g>
<g transform="translate(272.5 1030)" id="g15"><rect y="-6.7" width="101" height="13.4"/><text x="7" y="2.2">参加劳动的，可以酌量发给报酬</text></g>
<g transform="translate(176 1115)" id="h1"><rect y="-6.7" width="38" height="13.4"/><text x="7" y="2.2">有期徒刑</text></g>
<g transform="translate(236.5 1043.3)" id="h2"><rect y="-6.7" width="26" height="13.4"/><text x="7" y="2.2">概念</text></g>
<g transform="translate(285 1043.3)" id="h3"><rect y="-6.7" width="201" height="13.4"/><text x="7" y="2.2">指剥夺犯罪人一定期限的人身自由，实施强制劳动改造的刑罚方法</text></g>
<g transform="translate(236.5 1070)" id="h4"><rect y="-6.7" width="26" height="13.4"/><text x="7" y="2.2">特征</text></g>
<g transform="translate(285 1056.7)" id="h5"><rect y="-6.7" width="38" height="13.4"/><text x="7" y="2.2">剥夺自由</text></g>
<g transform="translate(285 1070)" id="h6"><rect y="-6.7" width="38" height="13.4"/><text x="7" y="2.2">适用广泛</text></g>
<g transform="translate(285 1083.7)" id="h7"><rect y="-6.7" width="38" height="13.4"/><text x="7" y="2.2">强制劳动</text></g>
<g transform="translate(236.5 1135)" id="h8"><rect y="-6.7" width="26" height="13.4"/><text x="7" y="2.2">期限</text></g>
<g transform="translate(285 1097)" id="h9"><rect y="-6.7" width="72.500" height="13.4"/><text x="7" y="2.2">6个月以上，15年以下</text></g>
<g transform="translate(285 1135)" id="h10"><rect y="-6.7" width="26" height="13.4"/><text x="7" y="2.2">例外</text></g>
<g transform="translate(333.5 1110.7)" id="h11"><rect y="-6.7" width="144.500" height="13.4"/><text x="7" y="2.2">死缓缓刑两年期满+重大立功表现=25年有期徒刑</text></g>
<g transform="translate(333.5 1124)" id="h12"><rect y="-6.7" width="150.500" height="13.4"/><text x="7" y="2.2">数罪并罚，有期徒刑总和不满35年，最高可达20年</text></g>
<g transform="translate(333.5 1137)" id="h13"><rect y="-6.7" width="150.500" height="13.4"/><text x="7" y="2.2">数罪并罚，有期徒刑总和超过35年，最高可达25年</text></g>
<g transform="translate(333.5 1154.3)" id="h14"><rect y="-11.1" width="236.500" height="22.200"/><text x="7" y="-2.4">犯罪分子服刑期间又犯有新罪，以前罪剩余刑罚来确定应当执行的刑罚，已经执<tspan x="7" dy="9.1">行的刑罚不计算在新决定的刑期内 实际执行的刑期可超过15年，甚至超过20年。</tspan></text></g>
<g transform="translate(285 1172.5)" id="h15"><rect y="-6.7" width="158.500" height="13.4"/><text x="7" y="2.2">先行羁押，羁押一日折抵刑期一日 取保候审不算羁押</text></g>
<g transform="translate(236.5 1186)" id="h16"><rect y="-6.7" width="26" height="13.4"/><text x="7" y="2.2">执行</text></g>
<g transform="translate(285 1186)" id="h17"><rect y="-6.7" width="94.5" height="13.4"/><text x="7" y="2.2">监狱、少年犯管教所、拘役所</text></g>
<g transform="translate(176 1242.5)" id="i1"><rect y="-6.7" width="38" height="13.4"/><text x="7" y="2.2">无期徒刑</text></g>
<g transform="translate(236.5 1199.5)" id="i2"><rect y="-6.7" width="26" height="13.4"/><text x="7" y="2.2">概念</text></g>
<g transform="translate(285 1199.5)" id="i3"><rect y="-6.7" width="138.500" height="13.4"/><text x="7" y="2.2">剥夺犯罪分子终身自由并强制劳动改造的方法</text></g>
<g transform="translate(236.5 1230.5)" id="i4"><rect y="-6.7" width="26" height="13.4"/><text x="7" y="2.2">特征</text></g>
<g transform="translate(285 1213)" id="i5"><rect y="-6.7" width="32" height="13.4"/><text x="7" y="2.2">严厉性</text></g>
<g transform="translate(285 1226.5)" id="i6"><rect y="-6.7" width="32" height="13.4"/><text x="7" y="2.2">替代性</text></g>
<g transform="translate(285 1244)" id="i7"><rect y="-6.7" width="32" height="13.4"/><text x="7" y="2.2">慎重性</text></g>
<g transform="translate(339.5 1244)" id="i8"><rect y="-11.1" width="233" height="22.200"/><text x="7" y="-2.4">未成年人犯罪只有罪行极其严重的，才可以适用无期徒刑；对于已满14周岁不<tspan x="7" dy="9.1">满18周岁的未成年人一般不判处无期徒刑</tspan></text></g>
<g transform="translate(236.5 1273.3)" id="i9"><rect y="-6.7" width="26" height="13.4"/><text x="7" y="2.2">执行</text></g>
<g transform="translate(285 1273.3)" id="i10"><rect y="-6.7" width="44.5" height="13.4"/><text x="7" y="2.2">减刑和假释</text></g>
<g transform="translate(352 1262.5)" id="i11"><rect y="-6.7" width="188" height="13.4"/><text x="7" y="2.2">无期徒刑减为有期徒刑后，刑期从人民法院裁定减刑之日起算</text></g>
<g transform="translate(352 1279.5)" id="i12"><rect y="-11.1" width="236" height="22.200"/><text x="7" y="-2.4">实际执行13年以上，可以获得假释；累犯、故意杀人、爆炸、抢劫、强奸、绑架<tspan x="7" dy="9.1">等暴力犯罪除外</tspan></text></g>
<g transform="translate(176 1457)" id="j1"><rect y="-6.7" width="25.5" height="13.4"/><text x="7" y="2.2">死刑</text></g>
<g transform="translate(224.5 1298)" id="j2"><rect y="-6.7" width="25.5" height="13.4"/><text x="7" y="2.2">概念</text></g>
<g transform="translate(272.5 1298)" id="j3"><rect y="-6.7" width="101" height="13.4"/><text x="7" y="2.2">指剥夺犯罪分子生命的刑罚方法</text></g>
<g transform="translate(224.5 1318)" id="j4"><rect y="-6.7" width="25.5" height="13.4"/><text x="7" y="2.2">类型</text></g>
<g transform="translate(272.5 1311.5)" id="j5"><rect y="-6.7" width="76" height="13.4"/><text x="7" y="2.2">死刑立即执行（狭义）</text></g>
<g transform="translate(272.5 1325)" id="j6"><rect y="-6.7" width="76" height="13.4"/><text x="7" y="2.2">死刑缓期执行（广义）</text></g>
<g transform="translate(224.5 1338)" id="j7"><rect y="-6.7" width="25.5" height="13.4"/><text x="7" y="2.2">政策</text></g>
<g transform="translate(272.5 1338)" id="j8"><rect y="-6.7" width="32" height="13.4"/><text x="7" y="2.2">子主题</text></g>
<g transform="translate(327 1338)" id="j9"><rect y="-6.7" width="69.5" height="13.4"/><text x="7" y="2.2">不可不杀，不可多杀</text></g>
<g transform="translate(224.5 1358)" id="j10"><rect y="-6.7" width="38" height="13.4"/><text x="7" y="2.2">适用条件</text></g>
<g transform="translate(285 1358)" id="j11"><rect y="-6.7" width="50.5" height="13.4"/><text x="7" y="2.2">罪行极其严重</text></g>
<g transform="translate(358.5 1351.5)" id="j12"><rect y="-6.7" width="44" height="13.4"/><text x="7" y="2.2">客观危害性</text></g>
<g transform="translate(358.5 1365)" id="j13"><rect y="-6.7" width="38" height="13.4"/><text x="7" y="2.2">主观恶性</text></g>
<g transform="translate(224.5 1396)" id="j14"><rect y="-6.7" width="38" height="13.4"/><text x="7" y="2.2">适用限制</text></g>
<g transform="translate(285 1378)" id="j15"><rect y="-6.7" width="152.5" height="13.4"/><text x="7" y="2.2">犯罪时不满18周岁（从18周岁生日第二天起起算）</text></g>
<g transform="translate(285 1391.5)" id="j16"><rect y="-6.7" width="152.5" height="13.4"/><text x="7" y="2.2">审判时怀孕的妇女（包括在羁押期间流产的妇女）</text></g>
<g transform="translate(285 1409)" id="j17"><rect y="-11.1" width="236" height="22.200"/><text x="7" y="-2.4">审判时已满75岁的老人（特别残忍手段致人死亡的除外：肢解、残酷折磨、毁人<tspan x="7" dy="9.1">容貌...）</tspan></text></g>
<g transform="translate(224.5 1428.5)" id="j18"><rect y="-6.7" width="31.5" height="13.4"/><text x="7" y="2.2">核准权</text></g>
<g transform="translate(278.5 1428.5)" id="j19"><rect y="-6.7" width="195" height="13.4"/><text x="7" y="2.2">死刑除由最高人民法院判决的以外，都应当报请最高人民法院核准</text></g>
<g transform="translate(224.5 1528)" id="j20"><rect y="-6.7" width="57" height="13.4"/><text x="7" y="2.2">死刑的缓期执行</text></g>
<g transform="translate(303.5 1445)" id="j21"><rect y="-6.7" width="26" height="13.4"/><text x="7" y="2.2">概念</text></g>
<g transform="translate(351.5 1445)" id="j22"><rect y="-11.1" width="240" height="22.200"/><text x="7" y="-2.4">对于应当判处死刑的犯罪分子，如果不是必须立即执行，可以宣告死刑的同时宣告缓期<tspan x="7" dy="9.1">两年执行</tspan></text></g>
<g transform="translate(303.5 1476.7)" id="j23"><rect y="-6.7" width="38.500" height="13.4"/><text x="7" y="2.2">适用条件</text></g>
<g transform="translate(364.5 1463)" id="j24"><rect y="-6.7" width="63" height="13.4"/><text x="7" y="2.2">王志才故意杀人案</text></g>
<g transform="translate(364.5 1476.7)" id="j25"><rect y="-6.7" width="57" height="13.4"/><text x="7" y="2.2">李飞故意杀人案</text></g>
<g transform="translate(364.5 1490)" id="j26"><rect y="-6.7" width="63" height="13.4"/><text x="7" y="2.2">李昌奎故意杀人案</text></g>
<g transform="translate(303.5 1525.5)" id="j27"><rect y="-6.7" width="57.500" height="13.4"/><text x="7" y="2.2">死缓期满的处理</text></g>
<g transform="translate(383.5 1503)" id="j28"><rect y="-6.7" width="205" height="13.4"/><text x="7" y="2.2">死刑缓期执行期间如果没有故意犯罪，2年期满以后，减为无期徒刑</text></g>
<g transform="translate(383.5 1521)" id="j29"><rect y="-11.1" width="234.500" height="22.200"/><text x="7" y="-2.4">死刑缓期执行期间如果确有重大立功表现，2年期满以后，减为25年有期徒刑；重<tspan x="7" dy="9.1">大立功表现：检举、揭发他人罪行，破获重大案件，阻止重大犯罪活动；发明创造</tspan></text></g>
<g transform="translate(383.5 1543.5)" id="j30"><rect y="-11.1" width="234.500" height="22.200"/><text x="7" y="-2.4">死刑缓期执行期间故意犯罪，情节恶劣的，报请最高人民法院核准后执行死刑；对<tspan x="7" dy="9.1">于故意犯罪未执行死刑的，死刑缓期执行期间重新计算，并报最高人民法院备案</tspan></text></g>
<g transform="translate(303.5 1588.3)" id="j31"><rect y="-6.7" width="70" height="13.4"/><text x="7" y="2.2">死缓限制减刑的规定</text></g>
<g transform="translate(395.5 1561.7)" id="j32"><rect y="-6.7" width="38.5" height="13.4"/><text x="7" y="2.2">适用对象</text></g>
<g transform="translate(395.5 1575)" id="j33"><rect y="-6.7" width="26" height="13.4"/><text x="7" y="2.2">含义</text></g>
<g transform="translate(395.5 1588.3)" id="j34"><rect y="-6.7" width="57" height="13.4"/><text x="7" y="2.2">未限制减刑情形</text></g>
<g transform="translate(395.5 1601.7)" id="j35"><rect y="-6.7" width="38.5" height="13.4"/><text x="7" y="2.2">限制减刑</text></g>
<g transform="translate(395.5 1615)" id="j36"><rect y="-6.7" width="101" height="13.4"/><text x="7" y="2.2">死缓实际执行期限不得少于15年</text></g>
<g id="L-fujia" transform="translate(112 2025.7)"><rect class="l" y="-8" width="50" height="16"/><path d="M8 -3L10 -5H15L17 -3L12.500 3Z" fill="#f2b01e"/><text class="l" x="19" y="3">附加刑</text></g>
<g transform="translate(184 1746.7)" id="k1"><rect y="-6.7" width="25.5" height="13.4"/><text x="7" y="2.2">罚金</text></g>
<g transform="translate(232.5 1646.5)" id="k2"><rect y="-6.7" width="25.5" height="13.4"/><text x="7" y="2.2">概念</text></g>
<g transform="translate(280.5 1646.5)" id="k3"><rect y="-6.7" width="145" height="13.4"/><text x="7" y="2.2">强制犯罪人向国家缴纳一定数额金钱的刑罚办法</text></g>
<g transform="translate(232.5 1660)" id="k4"><rect y="-6.7" width="38" height="13.4"/><text x="7" y="2.2">数量原则</text></g>
<g transform="translate(293 1660)" id="k5"><rect y="-6.7" width="79.5" height="13.4"/><text x="7" y="2.2">犯罪情节+缴纳罚金能力</text></g>
<g transform="translate(232.5 1693)" id="k6"><rect y="-6.7" width="38" height="13.4"/><text x="7" y="2.2">适用方式</text></g>
<g transform="translate(293 1673)" id="k7"><rect y="-6.7" width="32" height="13.4"/><text x="7" y="2.2">单科制</text></g>
<g transform="translate(347.5 1673)" id="k8"><rect y="-6.7" width="107" height="13.4"/><text x="7" y="2.2">单独适用罚金，主要用于单位犯罪</text></g>
<g transform="translate(293 1686.5)" id="k9"><rect y="-6.7" width="32" height="13.4"/><text x="7" y="2.2">选科制</text></g>
<g transform="translate(347.5 1686.5)" id="k10"><rect y="-6.7" width="213.500" height="13.4"/><text x="7" y="2.2">在罚金单独适用的情况下，刑法规定罚金与其他刑种并列，可供选择适用</text></g>
<g transform="translate(293 1700)" id="k11"><rect y="-6.7" width="32" height="13.4"/><text x="7" y="2.2">并科制</text></g>
<g transform="translate(347.5 1700)" id="k12"><rect y="-6.7" width="207.500" height="13.4"/><text x="7" y="2.2">在罚金附加适用的情况下，明确规定判处自由刑时，必须同时并处罚金</text></g>
<g transform="translate(293 1713.3)" id="k13"><rect y="-6.7" width="32" height="13.4"/><text x="7" y="2.2">复合制</text></g>
<g transform="translate(347.5 1713.3)" id="k14"><rect y="-6.7" width="182" height="13.4"/><text x="7" y="2.2">指罚金的单处与并处同时规定在一个法条之中，以供选择适用</text></g>
<g transform="translate(232.5 1753.5)" id="k15"><rect y="-6.7" width="25.5" height="13.4"/><text x="7" y="2.2">缴纳</text></g>
<g transform="translate(280.5 1726.7)" id="k16"><rect y="-6.7" width="51" height="13.4"/><text x="7" y="2.2">限期一次缴纳</text></g>
<g transform="translate(280.5 1740)" id="k17"><rect y="-6.7" width="51" height="13.4"/><text x="7" y="2.2">限期分期缴纳</text></g>
<g transform="translate(280.5 1753.5)" id="k18"><rect y="-6.7" width="38" height="13.4"/><text x="7" y="2.2">强制缴纳</text></g>
<g transform="translate(280.5 1767)" id="k19"><rect y="-6.7" width="38" height="13.4"/><text x="7" y="2.2">随时追缴</text></g>
<g transform="translate(280.5 1780)" id="k20"><rect y="-6.7" width="94.5" height="13.4"/><text x="7" y="2.2">延期缴纳、减少或者免除缴纳</text></g>
<g transform="translate(232.5 1820.5)" id="k21"><rect y="-6.7" width="25.5" height="13.4"/><text x="7" y="2.2">数额</text></g>
<g transform="translate(280.5 1793.5)" id="k22"><rect y="-6.7" width="51" height="13.4"/><text x="7" y="2.2">无限额罚金制</text></g>
<g transform="translate(353.5 1793.5)" id="k23"><rect y="-6.7" width="160" height="13.4"/><text x="7" y="2.2">最低不能低于1000元，未成年犯罪最低不能低于500元</text></g>
<g transform="translate(280.5 1807)" id="k24"><rect y="-6.7" width="44.5" height="13.4"/><text x="7" y="2.2">限额罚金制</text></g>
<g transform="translate(280.5 1820.5)" id="k25"><rect y="-6.7" width="44.5" height="13.4"/><text x="7" y="2.2">比例罚金制</text></g>
<g transform="translate(280.5 1834)" id="k26"><rect y="-6.7" width="44.5" height="13.4"/><text x="7" y="2.2">倍数罚金制</text></g>
<g transform="translate(280.5 1847)" id="k27"><rect y="-6.7" width="44.5" height="13.4"/><text x="7" y="2.2">倍比罚金制</text></g>
<g transform="translate(184 1957)" id="m1"><rect y="-6.7" width="51" height="13.4"/><text x="7" y="2.2">剥夺政治权利</text></g>
<g transform="translate(257.5 1867)" id="m2"><rect y="-6.7" width="25.5" height="13.4"/><text x="7" y="2.2">概念</text></g>
<g transform="translate(305.5 1860.5)" id="m3"><rect y="-6.7" width="175.5" height="13.4"/><text x="7" y="2.2">指剥夺犯罪人参加国家管理活动和政治活动权利的刑罚方法</text></g>
<g transform="translate(305.5 1874)" id="m4"><rect y="-6.7" width="107" height="13.4"/><text x="7" y="2.2">对未成年人犯罪慎用剥夺政治权利</text></g>
<g transform="translate(257.5 1892)" id="m5"><rect y="-6.7" width="25.5" height="13.4"/><text x="7" y="2.2">内容</text></g>
<g transform="translate(305.5 1892)" id="m6"><rect y="-11.1" width="236.500" height="22.200"/><text x="7" y="-2.4">选举权和被选举权；言论、出版、集会、结社、游行、示威自由的权利；担任国<tspan x="7" dy="9.1">家机关职务的权利；担任国有公司、企业、事业单位和人民团体领导职务的权利</tspan></text></g>
<g transform="translate(257.5 1918.5)" id="m7"><rect y="-6.7" width="38.5" height="13.4"/><text x="7" y="2.2">适用方式</text></g>
<g transform="translate(318.5 1918.5)" id="m8"><rect y="-15.7" width="236.500" height="31.400"/><text x="7" y="-7">危害国家安全的犯罪分子 故意杀人、强奸、放火、爆炸、投毒、抢劫等严重破坏<tspan x="7" dy="9.1">社会秩序的犯罪分子；被判处死刑和无期徒刑的犯罪分子应当剥夺政治权利终</tspan><tspan x="7" dy="9.1">身；故意伤害、盗窃等+情节严重，可以剥夺政治权利</tspan></text></g>
<g transform="translate(257.5 1941)" id="m9"><rect y="-6.7" width="38.5" height="13.4"/><text x="7" y="2.2">独立适用</text></g>
<g transform="translate(318.5 1941)" id="m10"><rect y="-6.7" width="219" height="13.4"/><text x="7" y="2.2">适用于罪行较轻，不需要判处主刑的罪犯：追用公民自由、民主权利和决职</text></g>
<g transform="translate(257.5 2003.5)" id="m11"><rect y="-6.7" width="25.5" height="13.4"/><text x="7" y="2.2">期限</text></g>
<g transform="translate(305.5 1954.5)" id="m12"><rect y="-6.7" width="217" height="13.4"/><text x="7" y="2.2">管制+剥夺政治权利：与管制期限相等，同时执行，即3个月以上，2年以下</text></g>
<g transform="translate(305.5 1968)" id="m13"><rect y="-6.7" width="213.5" height="13.4"/><text x="7" y="2.2">拘役、有期徒刑附加或者单处剥夺政治权利的期限，为1年以上，5年以下</text></g>
<g transform="translate(305.5 1981)" id="m14"><rect y="-6.7" width="154" height="13.4"/><text x="7" y="2.2">死刑、无期徒刑+剥夺政治权利：剥夺政治权利终身</text></g>
<g transform="translate(305.5 1998.7)" id="m15"><rect y="-11.1" width="236.500" height="22.200"/><text x="7" y="-2.4">死缓减为有期徒刑或者无期徒刑减为有期徒刑的，附加剥夺政治权利的期限改为3<tspan x="7" dy="9.1">年以上，10年以下</tspan></text></g>
<g transform="translate(305.5 2035)" id="m16"><rect y="-6.7" width="44.5" height="13.4"/><text x="7" y="2.2">期限的计算</text></g>
<g transform="translate(372.5 2017)" id="m17"><rect y="-6.7" width="198" height="13.4"/><text x="7" y="2.2">独立适用剥夺政治权利的，其刑期从判决确定之日起计算并执行</text></g>
<g transform="translate(372.5 2034.3)" id="m18"><rect y="-11.1" width="237.500" height="22.200"/><text x="7" y="-2.4">拘役、有期徒刑附加剥夺政治权利：从拘役、有期徒刑执行完毕之日或者假释<tspan x="7" dy="9.1">之日起计算，但是，剥夺政治权利的效力当然适用于主刑执行期间</tspan></text></g>
<g transform="translate(372.5 2052)" id="m19"><rect y="-6.7" width="237.500" height="13.4"/><text x="7" y="2.2">死刑、无期徒刑附加剥夺政治权利终身：刑期从判决发生法律效力之日起计算</text></g>
<g transform="translate(184 2126.7)" id="p1"><rect y="-6.7" width="38.5" height="13.4"/><text x="7" y="2.2">没收财产</text></g>
<g transform="translate(244.5 2066)" id="p2"><rect y="-6.7" width="26" height="13.4"/><text x="7" y="2.2">概念</text></g>
<g transform="translate(293 2066)" id="p3"><rect y="-6.7" width="213" height="13.4"/><text x="7" y="2.2">将犯罪分子个人所有财产的一部或者全部强制无偿地收归国有的刑罚方法</text></g>
<g transform="translate(244.5 2093)" id="p4"><rect y="-6.7" width="26" height="13.4"/><text x="7" y="2.2">范围</text></g>
<g transform="translate(293 2080)" id="p5"><rect y="-6.7" width="82" height="13.4"/><text x="7" y="2.2">没收财产的一部或者全部</text></g>
<g transform="translate(293 2093)" id="p6"><rect y="-6.7" width="106.5" height="13.4"/><text x="7" y="2.2">保留犯罪分子家属必需的生活费用</text></g>
<g transform="translate(293 2106)" id="p7"><rect y="-6.7" width="125" height="13.4"/><text x="7" y="2.2">不得没收犯罪分子家属所有或应有的财产</text></g>
<g transform="translate(244.5 2126.7)" id="p8"><rect y="-6.7" width="26" height="13.4"/><text x="7" y="2.2">方式</text></g>
<g transform="translate(293 2120)" id="p9"><rect y="-6.7" width="32" height="13.4"/><text x="7" y="2.2">选科制</text></g>
<g transform="translate(347.5 2120)" id="p10"><rect y="-6.7" width="207.5" height="13.4"/><text x="7" y="2.2">刑法对某种犯罪或某种犯罪的特定情节规定了并处罚金或者没收财产</text></g>
<g transform="translate(293 2133)" id="p11"><rect y="-6.7" width="32" height="13.4"/><text x="7" y="2.2">并科制</text></g>
<g transform="translate(347.5 2133)" id="p12"><rect y="-6.7" width="157" height="13.4"/><text x="7" y="2.2">在对犯罪人判处生命刑或自由刑的同时判处没收财产</text></g>
<g transform="translate(244.5 2166.5)" id="p13"><rect y="-6.7" width="26" height="13.4"/><text x="7" y="2.2">执行</text></g>
<g transform="translate(293 2146.5)" id="p14"><rect y="-6.7" width="88.5" height="13.4"/><text x="7" y="2.2">由人民法院或公安机关执行</text></g>
<g transform="translate(293 2173)" id="p15"><rect y="-6.7" width="76" height="13.4"/><text x="7" y="2.2">被没收的财产偿还债务</text></g>
<g transform="translate(391.5 2160)" id="p16"><rect y="-6.7" width="182" height="13.4"/><text x="7" y="2.2">必须是没收财产以前犯罪分子所欠债务，包括所欠国家税款</text></g>
<g transform="translate(391.5 2173)" id="p17"><rect y="-6.7" width="63" height="13.4"/><text x="7" y="2.2">必须是合法的债务</text></g>
<g transform="translate(391.5 2186.5)" id="p18"><rect y="-6.7" width="76" height="13.4"/><text x="7" y="2.2">必须经债权人提出请求</text></g>
<g transform="translate(184 2213)" id="q1"><rect y="-6.7" width="38.5" height="13.4"/><text x="7" y="2.2">驱逐出境</text></g>
<g transform="translate(244.5 2200)" id="q2"><rect y="-6.7" width="26" height="13.4"/><text x="7" y="2.2">概念</text></g>
<g transform="translate(293 2200)" id="q3"><rect y="-6.7" width="132" height="13.4"/><text x="7" y="2.2">强迫犯罪的外国人离开中国国境的刑罚方法</text></g>
<g transform="translate(244.5 2213)" id="q4"><rect y="-6.7" width="26" height="13.4"/><text x="7" y="2.2">性质</text></g>
<g transform="translate(293 2213)" id="q5"><rect y="-6.7" width="100.5" height="13.4"/><text x="7" y="2.2">对外国人在中国居留资格的剥夺</text></g>
<g transform="translate(244.5 2226.5)" id="q6"><rect y="-6.7" width="26" height="13.4"/><text x="7" y="2.2">方式</text></g>
<g transform="translate(293 2226.5)" id="q7"><rect y="-6.7" width="88.5" height="13.4"/><text x="7" y="2.2">可以适用（考虑国际关系）</text></g>
<g transform="translate(184 2294)" id="s1"><rect y="-6.7" width="32" height="13.4"/><text x="7" y="2.2">禁止令</text></g>
<g transform="translate(238.5 2249)" id="s2"><rect y="-6.7" width="26" height="13.4"/><text x="7" y="2.2">概念</text></g>
<g transform="translate(286.5 2249)" id="s3"><rect y="-15.7" width="237" height="31.400"/><text x="7" y="-7">对于判处管制、宣告缓刑的犯罪分子，根据犯罪情况，同时禁止犯罪分子在管制<tspan x="7" dy="9.1">执行期间或者缓刑考验期限内从事特定活动，出入特定区域、场所，接触特定的</tspan><tspan x="7" dy="9.1">人的刑罚方法</tspan></text></g>
<g transform="translate(238.5 2276)" id="s4"><rect y="-6.7" width="38" height="13.4"/><text x="7" y="2.2">裁量原则</text></g>
<g transform="translate(299 2276)" id="s5"><rect y="-11.1" width="237" height="22.200"/><text x="7" y="-2.4">是否适用：考虑犯罪原因、犯罪性质、犯罪手段、犯罪后的悔罪表现、个人一贯<tspan x="7" dy="9.1">表现等情况 如何适用：同时还应当考虑与犯罪分子所犯罪行的关联情况</tspan></text></g>
<g transform="translate(238.5 2307)" id="s6"><rect y="-6.7" width="26" height="13.4"/><text x="7" y="2.2">期限</text></g>
<g transform="translate(286.5 2293.5)" id="s7"><rect y="-6.7" width="129" height="13.4"/><text x="7" y="2.2">判处管制的，禁制令的期限不得少于3个月</text></g>
<g transform="translate(286.5 2307)" id="s8"><rect y="-6.7" width="129" height="13.4"/><text x="7" y="2.2">宣告缓刑的，禁止令的期限不得少于2个月</text></g>
<g transform="translate(286.5 2320.5)" id="s9"><rect y="-6.7" width="88.5" height="13.4"/><text x="7" y="2.2">自管制、缓刑执行之日起算</text></g>
<g transform="translate(238.5 2340.5)" id="s10"><rect y="-6.7" width="63.500" height="13.4"/><text x="7" y="2.2">违反禁止令的处理</text></g>
<g transform="translate(324.5 2334)" id="s11"><rect y="-6.7" width="191" height="13.4"/><text x="7" y="2.2">违反管制：5日以上10日以下拘留，并处200元以上500元以下罚款</text></g>
<g transform="translate(324.5 2347)" id="s12"><rect y="-6.7" width="151" height="13.4"/><text x="7" y="2.2">违反缓刑：情节严重的，撤销缓刑，执行原定刑罚</text></g>
<g transform="translate(184 2383)" id="u1"><rect y="-6.7" width="63.5" height="13.4"/><text x="7" y="2.2">禁止从事相关职业</text></g>
<g transform="translate(269.5 2369)" id="u2"><rect y="-6.7" width="26" height="13.4"/><text x="7" y="2.2">概念</text></g>
<g transform="translate(318 2369.5)" id="u3"><rect y="-15.7" width="243" height="31.400"/><text x="7" y="-7">因利用职业实施犯罪，或者实施违背职业要求的特定义务的犯罪而被判处刑罚<tspan x="7" dy="9.1">的，人民法院根据犯罪情况和预防再犯罪的需要，禁止其在一定期限内从事相关</tspan><tspan x="7" dy="9.1">职业的刑罚方法</tspan></text></g>
<g transform="translate(269.5 2392)" id="u4"><rect y="-6.7" width="26" height="13.4"/><text x="7" y="2.2">期限</text></g>
<g transform="translate(318 2392)" id="u5"><rect y="-6.7" width="38.5" height="13.4"/><text x="7" y="2.2">3年至5年</text></g>
<g transform="translate(269.5 2405.5)" id="u6"><rect y="-6.7" width="26" height="13.4"/><text x="7" y="2.2">处理</text></g>
<g transform="translate(318 2405.5)" id="u7"><rect y="-6.7" width="51" height="13.4"/><text x="7" y="2.2">公安机关处罚</text></g>
</g>
</svg>
